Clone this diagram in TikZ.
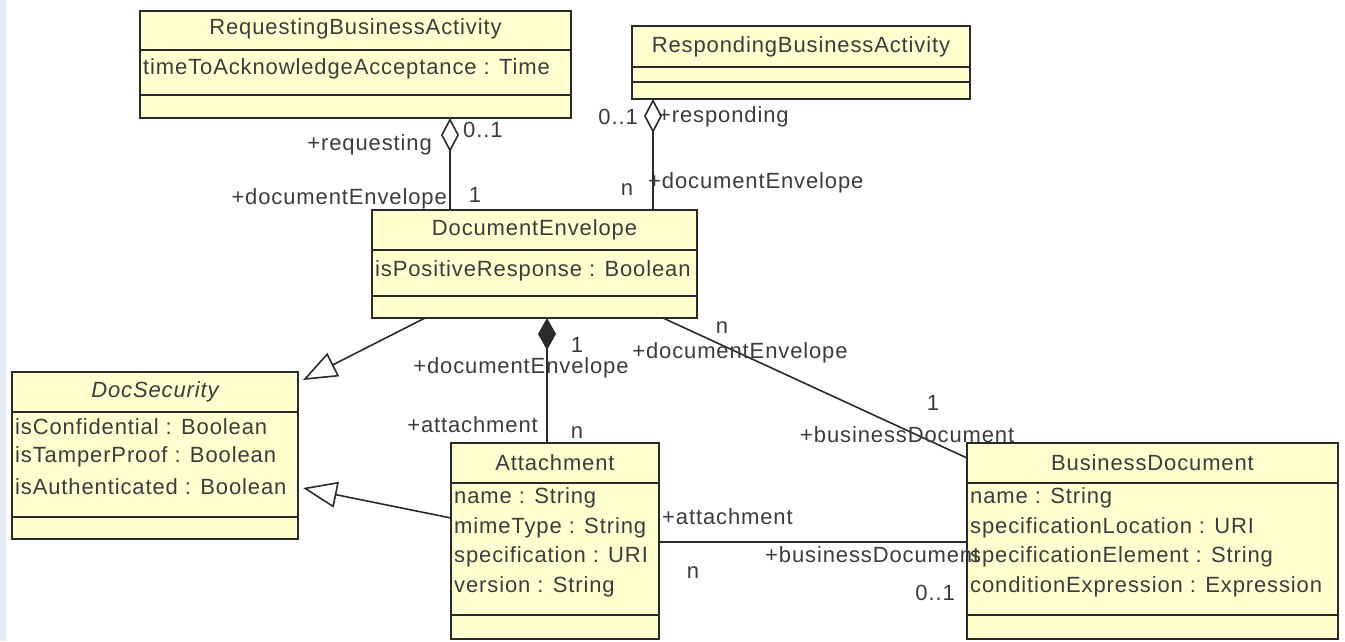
\documentclass[tikz,border=0pt]{standalone}
\usepackage{fontspec}
\setmainfont{Liberation Sans}[LetterSpace=4]
\usetikzlibrary{arrows.meta}
\definecolor{clsfill}{HTML}{FFFFD0}
\definecolor{ink}{HTML}{3C3C3C}
\definecolor{edge}{HTML}{2A2A2A}
\definecolor{strip}{HTML}{E3ECF7}
\begin{document}
\begin{tikzpicture}[x=1pt,y=-1pt,font=\fontsize{22}{26}\selectfont,text=ink]
\tikzset{
  cls/.style={draw=edge,fill=clsfill,line width=2pt,anchor=north west,inner sep=0pt,outer sep=0pt},
  title/.style={inner sep=0pt},
  attr/.style={anchor=west,inner sep=0pt},
  role/.style={inner sep=0pt},
  sep/.style={draw=edge,line width=2pt},
  assoc/.style={draw=edge,line width=1.6pt},
  aggr/.style={assoc,{Diamond[open,length=34pt,width=18pt,fill=white]}-},
  comp/.style={assoc,{Diamond[length=32pt,width=18pt]}-},
  gen/.style={assoc,-{Triangle[open,length=34pt,width=26pt,fill=white]}}
}
\useasboundingbox (0,0) rectangle (1345,641);
\fill[white] (0,0) rectangle (1345,641);
\fill[strip] (0,0) rectangle (6,641);

\node[cls,minimum width=431pt,minimum height=107pt] (req) at (140,11) {};
\draw[sep] (req.west |- 0,50) -- (req.east |- 0,50);
\draw[sep] (req.west |- 0,95) -- (req.east |- 0,95);
\node[title] (req-name) at (req.north |- 0,29) {RequestingBusinessActivity};
\node[attr] (req-a1) at ([xshift=3pt]req.west |- 0,69) {timeToAcknowledgeAcceptance : Time};

\node[cls,minimum width=338pt,minimum height=73pt] (resp) at (632,26) {};
\draw[sep] (resp.west |- 0,67) -- (resp.east |- 0,67);
\draw[sep] (resp.west |- 0,82) -- (resp.east |- 0,82);
\node[title] (resp-name) at (resp.north |- 0,47) {RespondingBusinessActivity};

\node[cls,minimum width=325pt,minimum height=108pt] (env) at (372,210) {};
\draw[sep] (env.west |- 0,250) -- (env.east |- 0,250);
\draw[sep] (env.west |- 0,296) -- (env.east |- 0,296);
\node[title] (env-name) at (env.north |- 0,230) {DocumentEnvelope};
\node[attr] (env-a1) at ([xshift=3pt]env.west |- 0,271) {isPositiveResponse : Boolean};

\node[cls,minimum width=286pt,minimum height=167pt] (sec) at (12,372) {};
\draw[sep] (sec.west |- 0,412) -- (sec.east |- 0,412);
\draw[sep] (sec.west |- 0,517) -- (sec.east |- 0,517);
\node[title] (sec-name) at (sec.north |- 0,392) {\itshape DocSecurity};
\node[attr] (sec-a1) at ([xshift=3pt]sec.west |- 0,427) {isConfidential : Boolean};
\node[attr] (sec-a2) at ([xshift=3pt]sec.west |- 0,457) {isTamperProof : Boolean};
\node[attr] (sec-a3) at ([xshift=3pt]sec.west |- 0,487) {isAuthenticated : Boolean};

\node[cls,minimum width=208pt,minimum height=196pt] (att) at (451,443) {};
\draw[sep] (att.west |- 0,483) -- (att.east |- 0,483);
\draw[sep] (att.west |- 0,615) -- (att.east |- 0,615);
\node[title] (att-name) at (att.north |- 0,463) {Attachment};
\node[attr] (att-a1) at ([xshift=3pt]att.west |- 0,498) {name : String};
\node[attr] (att-a2) at ([xshift=3pt]att.west |- 0,528) {mimeType : String};
\node[attr] (att-a3) at ([xshift=3pt]att.west |- 0,557) {specification : URI};
\node[attr] (att-a4) at ([xshift=3pt]att.west |- 0,587) {version : String};

\node[cls,minimum width=371pt,minimum height=196pt] (bus) at (967,443) {};
\draw[sep] (bus.west |- 0,483) -- (bus.east |- 0,483);
\draw[sep] (bus.west |- 0,615) -- (bus.east |- 0,615);
\node[title] (bus-name) at (bus.north |- 0,463) {BusinessDocument};
\node[attr] (bus-a1) at ([xshift=3pt]bus.west |- 0,498) {name : String};
\node[attr] (bus-a2) at ([xshift=3pt]bus.west |- 0,528) {specificationLocation : URI};
\node[attr] (bus-a3) at ([xshift=3pt]bus.west |- 0,557) {specificationElement : String};
\node[attr] (bus-a4) at ([xshift=3pt]bus.west |- 0,587) {conditionExpression : Expression};

\draw[aggr] ([xshift=310pt]req.south west) -- ([xshift=78pt]env.north west);
\draw[aggr] ([xshift=21pt]resp.south west) -- ([xshift=281pt]env.north west);
\draw[comp] ([xshift=175pt]env.south west) -- ([xshift=96pt]att.north west);
\draw[gen] ([xshift=53pt]env.south west) -- ([xshift=5pt,yshift=-8pt]sec.north east);
\draw[gen] ([yshift=-75pt]att.north west) -- ([xshift=5pt,yshift=-116pt]sec.north east);
\draw[assoc] ([xshift=291pt]env.south west) -- ([yshift=-15pt]bus.north west);
\draw[assoc] ([yshift=-99pt]att.north east) -- ([yshift=-99pt]bus.north west);

\node[role,anchor=east] (r-req) at (432,145) {+requesting};
\node[role,anchor=west] (m-req) at (463,130) {0..1};
\node[role,anchor=east] (r-env1) at (447,199) {+documentEnvelope};
\node[role] (m-env1) at (475,195) {1};
\node[role,anchor=east] (m-resp) at (638,117) {0..1};
\node[role,anchor=west] (r-resp) at (658,117) {+responding};
\node[role] (m-env2) at (627,190) {n};
\node[role,anchor=west] (r-env2) at (648,183) {+documentEnvelope};
\node[role] (m-env3) at (577,345) {1};
\node[role] (r-env3) at (521,368) {+documentEnvelope};
\node[role,anchor=east] (r-att1) at (538,425) {+attachment};
\node[role] (m-att1) at (577,433) {n};
\node[role] (m-env4) at (722,328) {n};
\node[role] (r-env4) at (740,353) {+documentEnvelope};
\node[role] (m-bus1) at (933,403) {1};
\node[role,anchor=west] (r-bus1) at (800,435) {+businessDocument};
\node[role,anchor=west] (r-att2) at (662,517) {+attachment};
\node[role,anchor=west] (r-bus2) at (765,555) {+businessDocument};
\node[role] (m-att2) at (693,573) {n};
\node[role,anchor=east] (m-bus2) at (955,593) {0..1};
\end{tikzpicture}
\end{document}
